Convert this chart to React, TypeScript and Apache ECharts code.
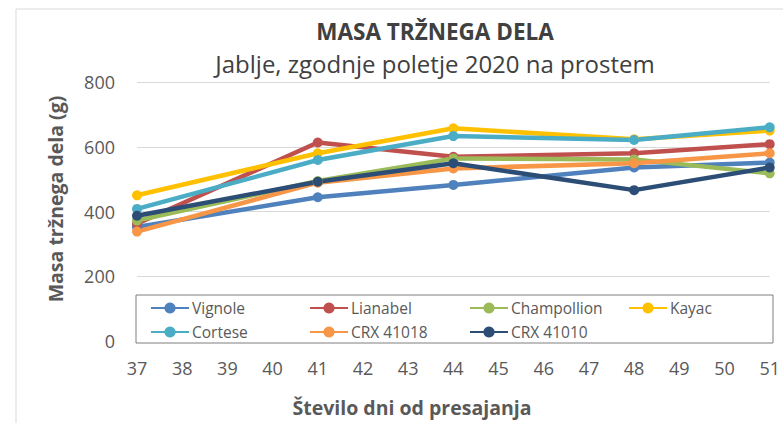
import React, { useEffect, useRef } from "react";
import * as echarts from "echarts";

const days = [37, 41, 44, 48, 51];
const seriesNames = ["Vignole", "Lianabel", "Champollion", "Kayac", "Cortese", "CRX 41018", "CRX 41010"];
const vignole = [352, 444, 482, 536, 551];
const lianabel = [362, 613, 569, 580, 608];
const champollion = [372, 494, 564, 561, 518];
const kayac = [450, 580, 657, 623, 650];
const cortese = [408, 559, 633, 621, 660];
const crx41018 = [338, 489, 533, 549, 580];
const crx41010 = [387, 492, 549, 466, 536];
const seriesValues = [vignole, lianabel, champollion, kayac, cortese, crx41018, crx41010];
const colors = ["#4F81BD", "#C0504D", "#9BBB59", "#FFC000", "#4BACC6", "#F79646", "#2C4D75"];

const FONT = "Open Sans";

export default function App() {
  const ref = useRef<HTMLDivElement>(null);
  useEffect(() => {
    if (!ref.current) return;
    const chart = echarts.init(ref.current, null, { renderer: "svg" });
    const legendPos = [
      [150, 300], [309, 300], [469, 300], [628, 300],
      [150, 324], [309, 324], [469, 324],
    ];
    chart.setOption({
      animation: false,
      backgroundColor: "#ffffff",
      color: colors,
      title: [
        {
          text: "MASA TRŽNEGA DELA",
          left: 435,
          top: 20,
          padding: 0,
          textAlign: "center",
          textStyle: { fontFamily: FONT, fontSize: 22.5, lineHeight: 23, fontWeight: "bold", color: "#404040" },
        },
        {
          text: "Jablje, zgodnje poletje 2020 na prostem",
          left: 435,
          top: 51.5,
          padding: 0,
          textAlign: "center",
          textStyle: { fontFamily: FONT, fontSize: 24, lineHeight: 24, fontWeight: "normal", color: "#404040" },
        },
      ],
      grid: { left: 137, right: 9, top: 82, bottom: 82 },
      xAxis: {
        type: "value",
        min: 37,
        max: 51,
        interval: 1,
        splitLine: { show: false },
        axisLine: { show: true, lineStyle: { color: "#d9d9d9" } },
        axisTick: { show: false },
        axisLabel: { margin: 18, fontFamily: FONT, fontSize: 18, color: "#595959" },
      },
      yAxis: {
        type: "value",
        min: 0,
        max: 800,
        interval: 200,
        axisLine: { show: false },
        axisTick: { show: false },
        splitLine: { lineStyle: { color: "#d9d9d9", width: 1 } },
        axisLabel: { margin: 22, fontFamily: FONT, fontSize: 18, color: "#595959" },
      },
      legend: seriesNames.map((n, i) => ({
        data: [n],
        left: legendPos[i][0],
        top: legendPos[i][1],
        padding: 0,
        itemWidth: 38,
        itemHeight: 14,
        itemGap: 0,
        z: 6,
        textStyle: { fontFamily: FONT, fontSize: 15.5, color: "#595959", padding: [0, 0, 0, -2] },
      })),
      graphic: [
        {
          type: "rect",
          z: -10,
          shape: { x: 16, y: 9, width: 1000, height: 1000 },
          style: { fill: "none", stroke: "#d9d9d9", lineWidth: 1 },
          silent: true,
        },
        {
          type: "rect",
          z: 4,
          shape: { x: 136, y: 295, width: 637, height: 48 },
          style: { fill: "#ffffff", stroke: "#7f7f7f", lineWidth: 1 },
          silent: true,
        },
        {
          type: "text",
          x: 55,
          y: 199,
          rotation: Math.PI / 2,
          style: {
            text: "Masa tržnega dela (g)",
            fontFamily: FONT,
            fontSize: 19.5,
            fontWeight: "bold",
            fill: "#595959",
            align: "center",
            verticalAlign: "middle",
          },
        },
        {
          type: "text",
          x: 412,
          y: 407,
          style: {
            text: "Število dni od presajanja",
            fontFamily: FONT,
            fontSize: 19.5,
            fontWeight: "bold",
            fill: "#595959",
            align: "center",
            verticalAlign: "middle",
          },
        },
      ],
      series: seriesNames.map((n, i) => ({
        name: n,
        type: "line",
        data: days.map((d, j) => [d, seriesValues[i][j]]),
        symbol: "circle",
        symbolSize: 10,
        lineStyle: { width: 4.5, color: colors[i] },
        itemStyle: { color: colors[i] },
        z: 2,
      })),
    });
    return () => chart.dispose();
  }, []);
  return (
    <div
      ref={ref}
      style={{ position: "fixed", left: 0, top: 0, width: 783, height: 423 }}
    />
  );
}
